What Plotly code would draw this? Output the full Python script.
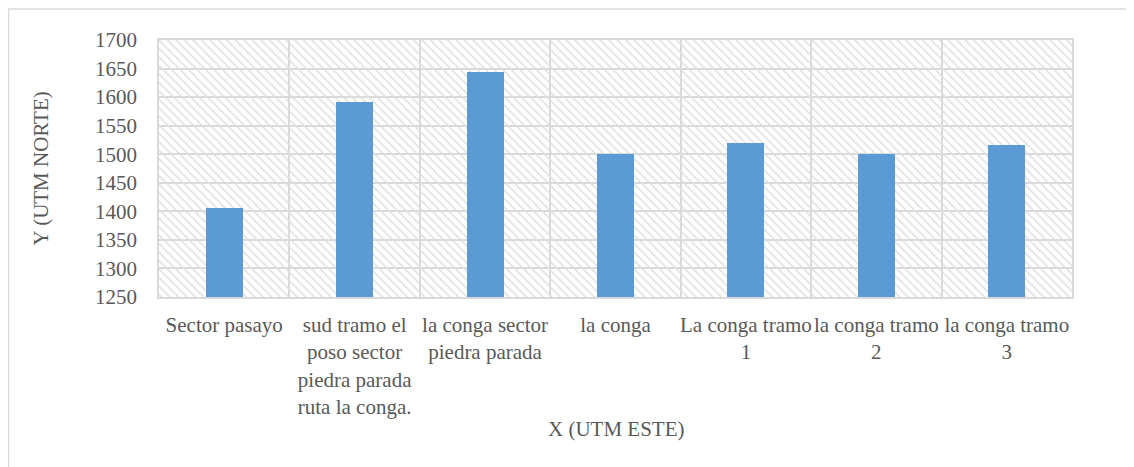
import plotly.graph_objects as go

categories = [
    "Sector pasayo",
    "sud tramo el<br>poso sector<br>piedra parada<br>ruta la conga.",
    "la conga sector<br>piedra parada",
    "la conga",
    "La conga tramo<br>1",
    "la conga tramo<br>2",
    "la conga tramo<br>3",
]
values = [1405, 1591, 1644, 1501, 1520, 1500, 1516]
y_min, y_max, y_step = 1250, 1700, 50

n = len(categories)
xs = list(range(n))

FONT = "Liberation Serif, Times New Roman, serif"
TXT = "#595959"
GRID = "#d9d9d9"

# page has an 8px body margin; figure sized/positioned to compensate
OFF = 8
L, T, R, B = 159 - OFF, 40 - OFF, 1072 - OFF, 297 - OFF
W, H = 1134 - OFF, 467 - OFF
PW, PH = R - L, B - T


def px(xp):
    return (xp - OFF - L) / PW


def py(yp):
    return (B - (yp - OFF)) / PH


fig = go.Figure()

# hatched plot-area background
fig.add_trace(go.Bar(
    x=[(n - 1) / 2], y=[y_max - y_min], base=[y_min], width=[n],
    marker=dict(color="rgba(0,0,0,0)", line=dict(width=0),
                pattern=dict(shape="\\", size=6, solidity=0.25,
                             fgcolor="#dedede", bgcolor="rgba(0,0,0,0)",
                             fillmode="replace")),
    hoverinfo="skip", showlegend=False,
))

fig.add_trace(go.Bar(
    x=xs, y=[v - y_min for v in values], base=[y_min] * n, width=0.284,
    marker=dict(color="#5b9bd5", line=dict(width=0)),
    showlegend=False,
))

fig.update_layout(
    width=W, height=H,
    margin=dict(l=L, r=W - R, t=T, b=H - B, autoexpand=False),
    paper_bgcolor="white", plot_bgcolor="white",
    barmode="overlay", bargap=0,
    font=dict(family=FONT, size=21, color=TXT),
    xaxis=dict(
        range=[-0.5, n - 0.5], tickmode="array", tickvals=xs, ticktext=categories,
        showgrid=False, zeroline=False, ticks="", ticklabelstandoff=8,
        showline=True, mirror=True, linecolor=GRID, linewidth=1.5,
        minor=dict(tickmode="linear", tick0=-0.5, dtick=1, showgrid=True,
                   gridcolor=GRID, gridwidth=1.5, ticks=""),
        tickangle=0, automargin=False,
    ),
    yaxis=dict(
        range=[y_min, y_max], tickmode="linear", tick0=y_min, dtick=y_step,
        showgrid=True, gridcolor=GRID, gridwidth=1.5, zeroline=False,
        ticks="", ticklabelstandoff=16, automargin=False,
        showline=True, mirror=True, linecolor=GRID, linewidth=1.5,
    ),
    annotations=[
        dict(text="Y (UTM NORTE)", textangle=-90, xref="paper", yref="paper",
             x=px(40), y=0.5, showarrow=False,
             xanchor="center", yanchor="middle",
             font=dict(family=FONT, size=21, color=TXT)),
        dict(text="X (UTM ESTE)", xref="paper", yref="paper",
             x=0.5, y=py(429), showarrow=False,
             xanchor="center", yanchor="middle",
             font=dict(family=FONT, size=21, color=TXT)),
    ],
    shapes=[
        dict(type="line", xref="paper", yref="paper",
             x0=px(8), x1=px(1140), y0=py(9), y1=py(9),
             line=dict(color=GRID, width=1.5)),
        dict(type="line", xref="paper", yref="paper",
             x0=px(8.5), x1=px(8.5), y0=py(9), y1=py(475),
             line=dict(color=GRID, width=1.5)),
    ],
)

fig.write_html("out.html")
